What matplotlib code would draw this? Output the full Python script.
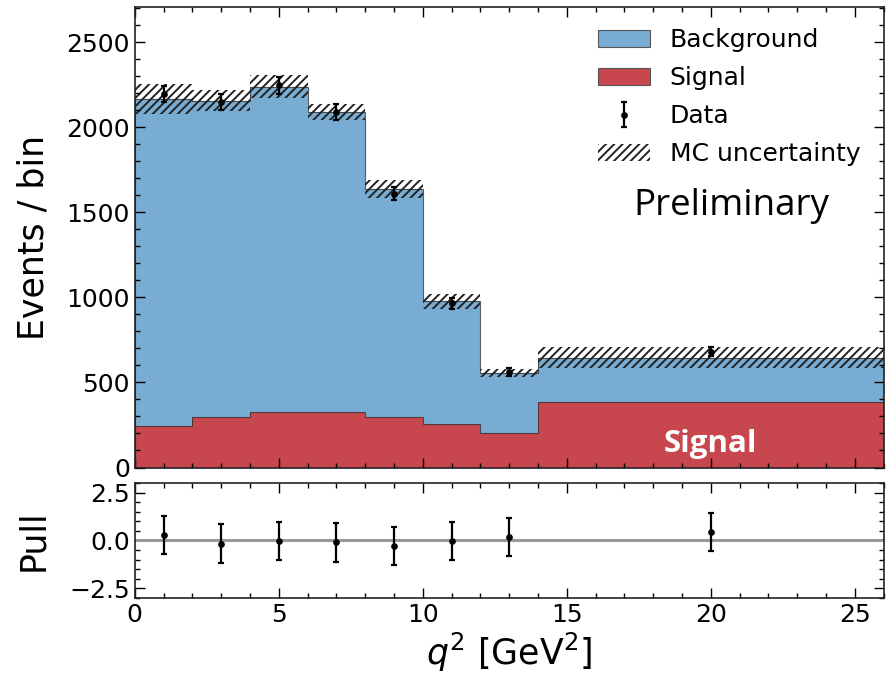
import matplotlib.pyplot as plt
import numpy as np
from matplotlib.patches import Patch
from matplotlib.ticker import MultipleLocator

# q^2 binning [GeV^2]
edges = np.array([0, 2, 4, 6, 8, 10, 12, 14, 26])
centers = np.array([1, 3, 5, 7, 9, 11, 13, 20])

# stacked MC templates (events / bin)
signal = np.array([246, 299, 328, 324, 295, 254, 205, 388])
background = np.array([1923, 1858, 1912, 1769, 1341, 723, 350, 258])
mc_unc = np.array([88, 63, 68, 47, 53, 42, 25, 63])

# observed counts and pulls
data = np.array([2198, 2149, 2247, 2090, 1611, 965, 563, 680])
pull = np.array([0.28, -0.16, -0.04, -0.10, -0.27, -0.04, 0.17, 0.44])
pull_err = np.array([1.0, 1.0, 1.0, 1.0, 1.0, 1.0, 1.0, 1.0])

blue = '#79acd3'
red = '#c8474f'
fs = 18
label_fs = 25

plt.rcParams['hatch.linewidth'] = 1.4

fig = plt.figure(figsize=(8.91, 6.8), dpi=100)
ax = fig.add_axes([0.1512, 0.3125, 0.8404, 0.6776])
axp = fig.add_axes([0.1512, 0.1206, 0.8404, 0.1691], sharex=ax)

total = signal + background

# stacked histogram
ax.stairs(signal, edges, fill=True, color=red)
ax.stairs(total, edges, baseline=signal, fill=True, color=blue)
ax.stairs(signal, edges, color='#333333', lw=0.8, alpha=0.8)
ax.stairs(total, edges, color='#333333', lw=0.8, alpha=0.8)

# MC uncertainty band
ax.stairs(total + mc_unc, edges, baseline=total - mc_unc, fill=True,
          facecolor='none', edgecolor='#222222', hatch='////', lw=0)

# data points with Poisson errors
ax.errorbar(centers, data, yerr=np.sqrt(data), fmt='o', color='k',
            ms=3.8, elinewidth=1.6, capsize=2.5, capthick=1.6)

ax.set_xlim(0, 26)
ax.set_ylim(0, 2710)
ax.set_ylabel('Events / bin', fontsize=label_fs)
ax.yaxis.set_label_coords(-0.113, 0.5)
ax.yaxis.set_major_locator(MultipleLocator(500))
ax.yaxis.set_minor_locator(MultipleLocator(100))
ax.xaxis.set_major_locator(MultipleLocator(5))
ax.xaxis.set_minor_locator(MultipleLocator(1))
plt.setp(ax.get_xticklabels(), visible=False)

handles = [
    Patch(facecolor=blue, edgecolor='#555555', lw=0.8),
    Patch(facecolor=red, edgecolor='#555555', lw=0.8),
    ax.containers[0],
    Patch(facecolor='none', edgecolor='#222222', hatch='////', lw=0),
]
labels = ['Background', 'Signal', 'Data', 'MC uncertainty']
ax.legend(handles, labels, loc='upper left', frameon=False, fontsize=fs,
          handlelength=2.08, handletextpad=0.8, labelspacing=0.56,
          borderaxespad=0, bbox_to_anchor=(0.605, 0.975))

ax.text(20.7, 1540, 'Preliminary', fontsize=26.5, family='Open Sans',
        ha='center', va='center', color='k')
ax.text(20.0, 140, 'Signal', fontsize=22.5, family='Open Sans',
        fontweight='bold', ha='center', va='center', color='white')

# pull panel
axp.axhline(0, color='#999999', lw=2.2)
axp.errorbar(centers, pull, yerr=pull_err, fmt='o', color='k',
             ms=3.8, elinewidth=1.6, capsize=2.5, capthick=1.6)
axp.set_ylim(-3, 3)
axp.set_yticks([-2.5, 0.0, 2.5])
axp.yaxis.set_minor_locator(MultipleLocator(0.5))
axp.set_ylabel('Pull', fontsize=label_fs)
axp.yaxis.set_label_coords(-0.113, 0.5)
axp.set_xlabel(r'$q^2$ [GeV$^2$]', fontsize=label_fs, labelpad=3)

for a in (ax, axp):
    a.tick_params(which='both', direction='in', top=True, right=True,
                  labelsize=fs, width=1.0)
    a.tick_params(which='major', length=7)
    a.tick_params(which='minor', length=3.5)
    for s in a.spines.values():
        s.set_linewidth(1.2)
        s.set_color('#222222')

fig.savefig('out.png', dpi=100)
